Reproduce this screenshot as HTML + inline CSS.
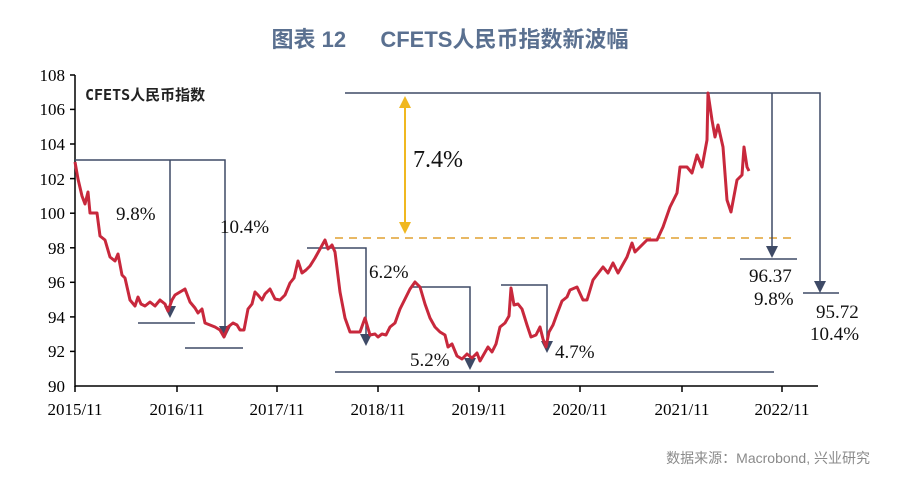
<!DOCTYPE html>
<html><head><meta charset="utf-8"><style>
body{margin:0;background:#fff;width:900px;height:478px;overflow:hidden}
</style></head><body>
<svg width="900" height="478" xmlns="http://www.w3.org/2000/svg" font-family="Liberation Serif, serif">
<text x="450" y="47" text-anchor="middle" font-family="Liberation Sans, Noto Sans CJK SC, sans-serif" font-size="22" font-weight="bold" fill="#5a7090">图表 12 　 CFETS人民币指数新波幅</text>
<text x="870" y="463" text-anchor="end" font-family="Liberation Sans, Noto Sans CJK SC, sans-serif" font-size="14" fill="#8a8a8a">数据来源：Macrobond, 兴业研究</text>
<g stroke="#000" stroke-width="1.5">
<line x1="75" y1="75" x2="75" y2="387"/>
<line x1="75" y1="386" x2="818" y2="386"/>
<line x1="70" y1="75" x2="75" y2="75"/><line x1="70" y1="109.4" x2="75" y2="109.4"/><line x1="70" y1="144" x2="75" y2="144"/><line x1="70" y1="178.6" x2="75" y2="178.6"/><line x1="70" y1="213.2" x2="75" y2="213.2"/><line x1="70" y1="247.8" x2="75" y2="247.8"/><line x1="70" y1="282.3" x2="75" y2="282.3"/><line x1="70" y1="316.9" x2="75" y2="316.9"/><line x1="70" y1="351.4" x2="75" y2="351.4"/>
<line x1="75" y1="386" x2="75" y2="392"/><line x1="177" y1="386" x2="177" y2="392"/><line x1="277" y1="386" x2="277" y2="392"/><line x1="378" y1="386" x2="378" y2="392"/><line x1="479" y1="386" x2="479" y2="392"/><line x1="580" y1="386" x2="580" y2="392"/><line x1="682" y1="386" x2="682" y2="392"/><line x1="782" y1="386" x2="782" y2="392"/>
</g>
<g font-size="17" text-anchor="end" fill="#000">
<text x="65" y="81">108</text><text x="65" y="115">106</text><text x="65" y="150">104</text><text x="65" y="185">102</text><text x="65" y="219">100</text><text x="65" y="254">98</text><text x="65" y="288">96</text><text x="65" y="323">94</text><text x="65" y="357">92</text><text x="65" y="392">90</text>
</g>
<g font-size="17" text-anchor="middle" fill="#000">
<text x="75" y="415">2015/11</text><text x="177" y="415">2016/11</text><text x="277" y="415">2017/11</text><text x="378" y="415">2018/11</text><text x="479" y="415">2019/11</text><text x="580" y="415">2020/11</text><text x="682" y="415">2021/11</text><text x="782" y="415">2022/11</text>
</g>
<text x="85" y="100" font-family="DejaVu Sans Mono, Noto Sans CJK SC, monospace" font-size="15" font-weight="bold" fill="#222">CFETS人民币指数</text>
<line x1="335" y1="238" x2="795" y2="238" stroke="#e0a030" stroke-width="1.5" stroke-dasharray="8,6"/>
<g stroke="#3e4a66" stroke-width="1.5" fill="none">
<polyline points="75,160 225,160 225,328"/>
<line x1="170" y1="160" x2="170" y2="308"/>
<line x1="138" y1="323" x2="195" y2="323"/>
<line x1="185" y1="348" x2="243" y2="348"/>
<polyline points="345,93 820,93 820,283"/>
<line x1="772" y1="93" x2="772" y2="248"/>
<line x1="740" y1="259" x2="797" y2="259"/>
<line x1="803" y1="293" x2="839" y2="293"/>
<polyline points="307,248 366,248 366,336"/>
<polyline points="412,287 470,287 470,360"/>
<polyline points="501,285 547,285 547,343"/>
<line x1="335" y1="372" x2="774" y2="372"/>
</g>
<g fill="#3e4a66">
<polygon points="164,306 176,306 170,318"/>
<polygon points="219,326 231,326 225,338"/>
<polygon points="766,246 778,246 772,258"/>
<polygon points="814,281 826,281 820,293"/>
<polygon points="360,334 372,334 366,346"/>
<polygon points="464,358 476,358 470,370"/>
<polygon points="541,341 553,341 547,353"/>
</g>
<line x1="405" y1="106" x2="405" y2="224" stroke="#f0b820" stroke-width="2"/>
<polygon points="399,108 411,108 405,96" fill="#f0b820"/>
<polygon points="399,222 411,222 405,234" fill="#f0b820"/>
<polyline fill="none" stroke="#c8283c" stroke-width="3" stroke-linejoin="round" points="75,162 78,179 82,196 85,204 88,192 90,213 95,213 97,213 100,236 105,240 110,257 115,261 118,254 122,275 125,278 130,300 135,306 138,297 141,304 145,306 150,302 155,306 160,300 165,304 168,311 172,300 175,295 180,292 185,289 190,302 195,308 198,313 202,309 205,323 210,325 215,327 220,330 224,337 228,327 233,323 237,325 240,330 244,330 248,309 252,304 255,292 258,295 262,300 265,294 270,289 275,299 280,300 285,295 290,283 294,278 298,261 302,273 306,270 310,266 315,258 320,249 325,240 328,249 332,245 335,252 340,292 345,318 350,332 355,332 360,332 365,318 370,335 375,334 378,337 382,334 386,335 390,327 395,323 400,309 405,299 410,289 415,282 420,287 425,304 430,318 435,327 440,332 445,335 448,347 452,344 457,356 462,359 467,354 472,358 477,353 480,361 484,354 488,347 492,352 496,344 500,327 505,323 509,316 511,288 514,305 518,304 522,309 527,325 531,337 536,335 540,327 543,339 546,347 549,332 553,325 557,314 562,301 567,297 570,290 577,287 583,300 587,300 593,280 603,267 608,273 613,263 618,273 627,257 632,243 635,252 647,240 657,240 663,227 670,207 677,193 680,167 687,167 692,173 697,155 702,167 707,140 708,93 712,120 715,137 718,125 723,147 727,200 731,212 737,180 742,175 744,147 747,167 749,171"/>
<g font-size="19" fill="#111">
<text x="116" y="220">9.8%</text>
<text x="220" y="233">10.4%</text>
<text x="369" y="278">6.2%</text>
<text x="410" y="366">5.2%</text>
<text x="555" y="358">4.7%</text>
<text x="749" y="282">96.37</text>
<text x="754" y="305">9.8%</text>
<text x="816" y="318">95.72</text>
<text x="810" y="340">10.4%</text>
<text x="413" y="167" font-size="24">7.4%</text>
</g>
</svg>
</body></html>
